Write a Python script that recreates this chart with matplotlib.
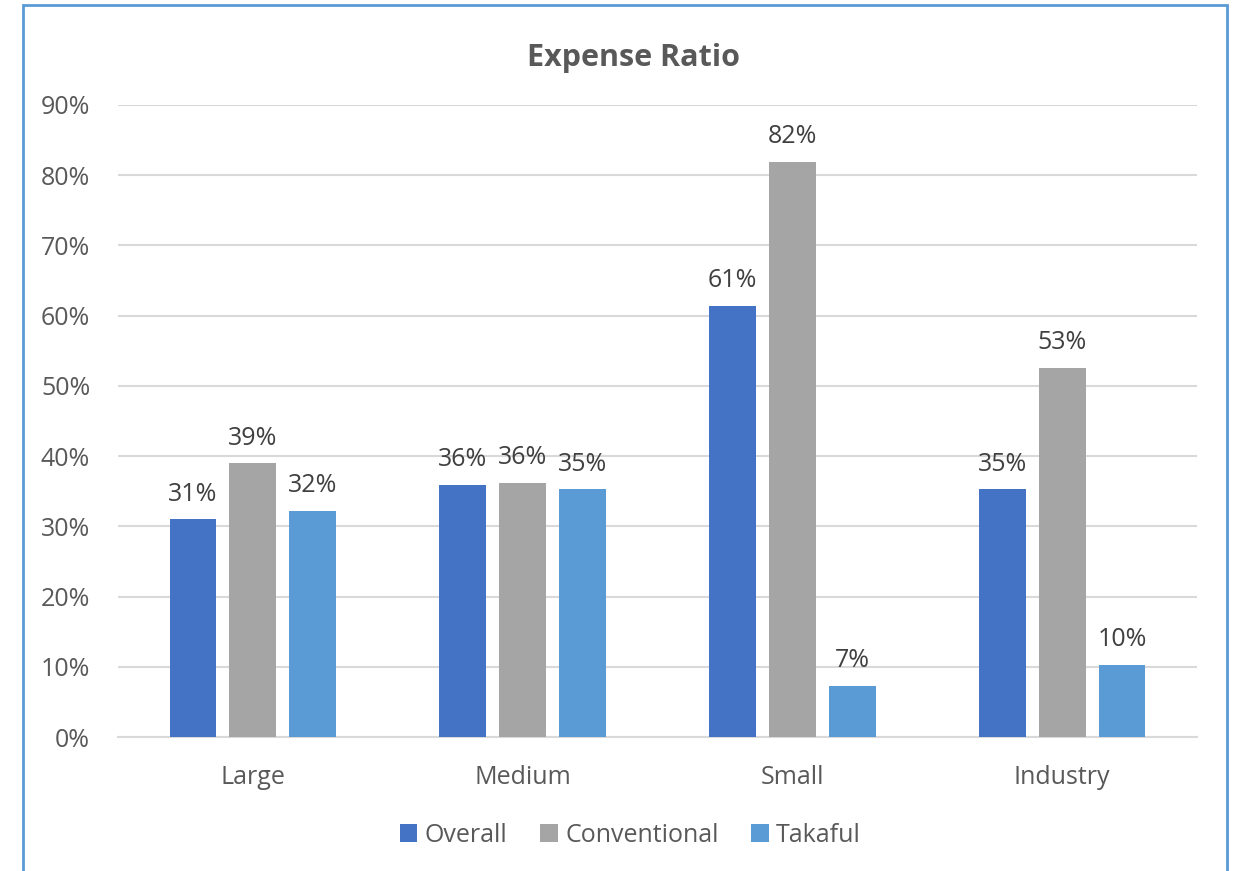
import numpy as np
import matplotlib.pyplot as plt
from matplotlib.patches import Rectangle

categories = ["Large", "Medium", "Small", "Industry"]
series = ["Overall", "Conventional", "Takaful"]
overall = [0.310, 0.359, 0.614, 0.353]
conventional = [0.390, 0.362, 0.819, 0.526]
takaful = [0.322, 0.353, 0.073, 0.103]
colors = ["#4472C4", "#A5A5A5", "#5B9BD5"]

plt.rcParams["font.family"] = ["Open Sans", "DejaVu Sans"]
text_color = "#595959"

fig = plt.figure(figsize=(12.33, 8.71), dpi=100)
ax = fig.add_axes([0.0957, 0.1538, 0.8751, 0.7257])

x = np.arange(len(categories))
width = 0.174
step = 0.222
for i, (name, vals) in enumerate(zip(series, [overall, conventional, takaful])):
    bars = ax.bar(x + (i - 1) * step, vals, width, color=colors[i], label=name, zorder=3)
    for b, v in zip(bars, vals):
        ax.annotate(f"{v * 100:.0f}%", (b.get_x() + b.get_width() / 2, v),
                    xytext=(0, 9), textcoords="offset points", ha="center", va="bottom",
                    fontsize=18, color="#404040")

ax.set_xlim(-0.5, 3.5)
ax.set_ylim(0, 0.9)
ax.set_yticks(np.arange(0, 0.91, 0.1))
ax.set_yticklabels([f"{t:.0f}%" for t in np.arange(0, 91, 10)])
ax.set_xticks(x)
ax.set_xticklabels(categories)
ax.tick_params(axis="both", length=0, labelsize=18, colors=text_color)
ax.tick_params(axis="y", pad=20)
ax.tick_params(axis="x", pad=20)
ax.yaxis.grid(True, color="#D9D9D9", linewidth=1.5, zorder=0)
for s in ["top", "right", "left"]:
    ax.spines[s].set_visible(False)
ax.spines["bottom"].set_color("#D9D9D9")
ax.spines["bottom"].set_linewidth(1.5)

fig.text(0.514, 0.933, "Expense Ratio", ha="center", va="center",
         fontsize=22, fontweight="bold", color=text_color)

ax.legend(loc="center", bbox_to_anchor=(0.475, -0.155), ncol=3, frameon=False,
          fontsize=18, labelcolor=text_color, handlelength=0.7, handleheight=0.7,
          handletextpad=0.3, columnspacing=1.3)

# outer chart frame, open at the bottom
fig.patches.append(Rectangle((23 / 1233, -0.05), 1204 / 1233, 1.05 - 5 / 871,
                             transform=fig.transFigure, fill=False,
                             edgecolor="#5B9BD5", linewidth=2))

fig.savefig("out.png", dpi=100)
